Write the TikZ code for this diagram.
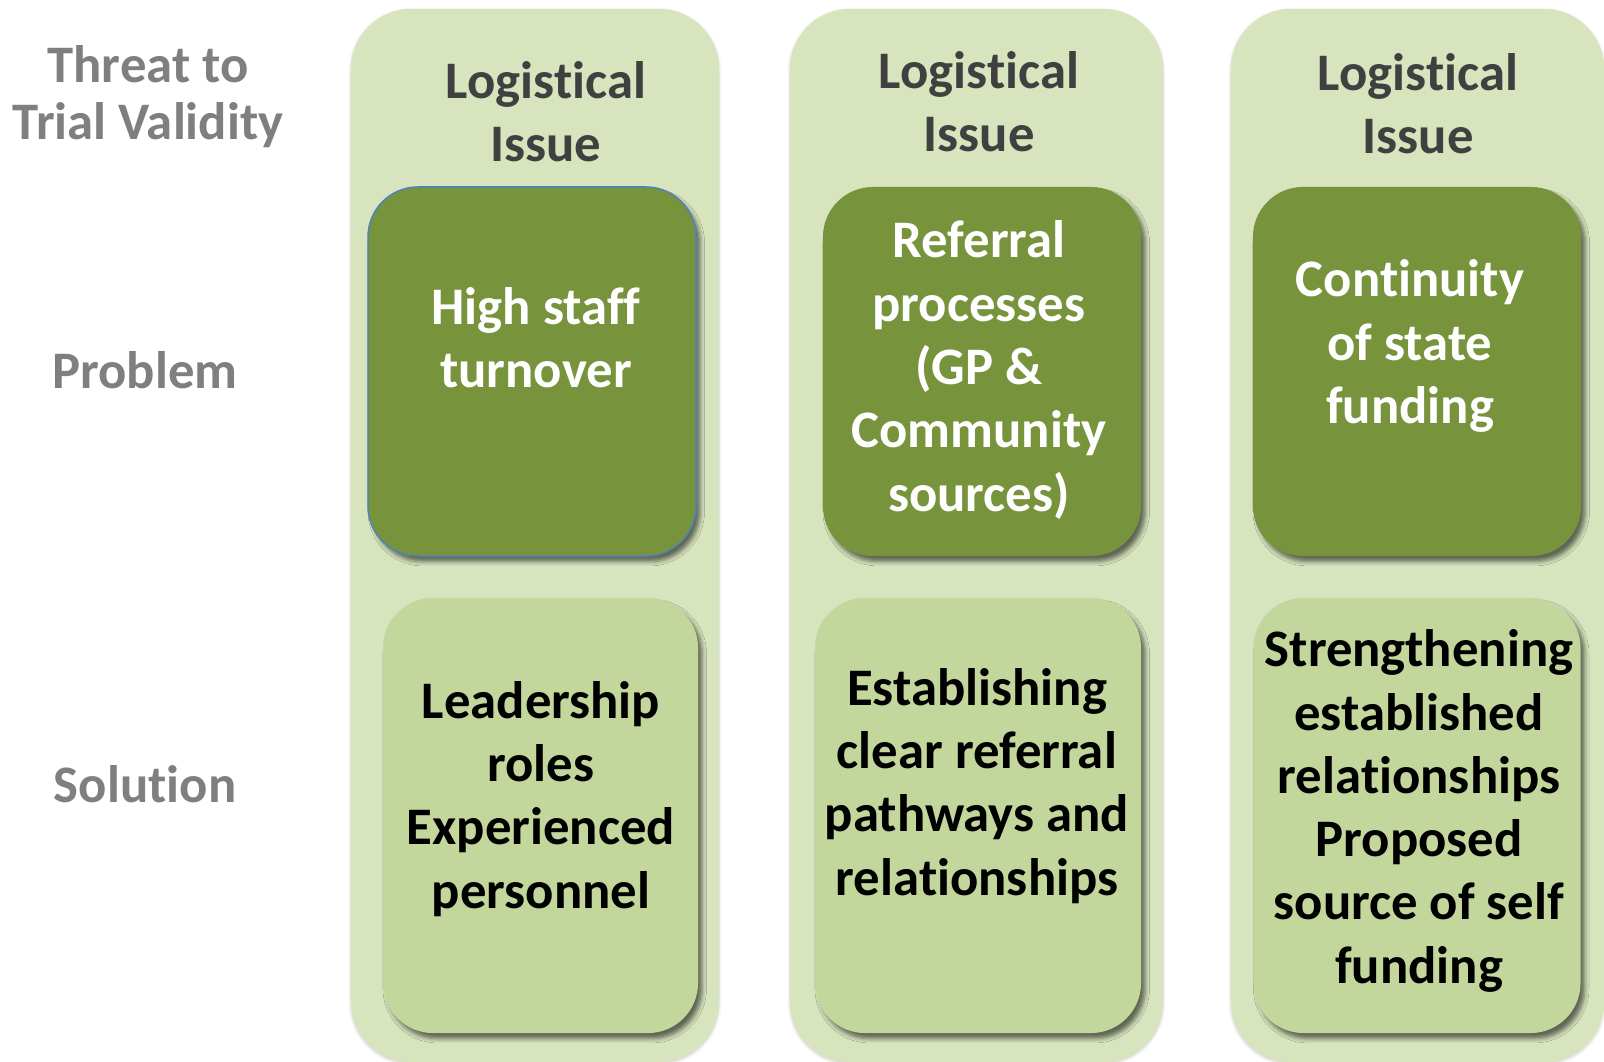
\documentclass[tikz,border=0pt]{standalone}
\usepackage{fontspec}
\setmainfont{Carlito}[Ligatures=NoCommon]
\usetikzlibrary{shadows.blur}
\definecolor{panelgreen}{HTML}{D7E4BD}
\definecolor{probgreen}{HTML}{77933C}
\definecolor{solgreen}{HTML}{C3D69B}
\definecolor{headgray}{HTML}{404040}
\definecolor{sidegray}{HTML}{7F7F7F}
\definecolor{edgeblue}{HTML}{4F81BD}
\tikzset{
  boxshadow/.style={blur shadow={shadow xshift=3pt,shadow yshift=-4pt,shadow blur radius=3pt,shadow opacity=55}},
  panel/.style={fill=panelgreen,rounded corners=1.5cm,minimum height=26.325cm,
    blur shadow={shadow xshift=0pt,shadow yshift=-1pt,shadow blur radius=2pt,shadow opacity=20}},
  probbox/.style={fill=probgreen,rounded corners=1.25cm,minimum height=9.225cm,boxshadow},
  solbox/.style={fill=solgreen,rounded corners=1.25cm,minimum height=10.875cm,boxshadow},
  bigtext/.style={font=\bfseries\fontsize{37.5}{45}\selectfont,align=center,inner sep=0pt},
}
\begin{document}
\begin{tikzpicture}[x=0.025cm,y=-0.025cm]
\useasboundingbox (0,0) rectangle (1604,1062);
\clip (0,0) rectangle (1604,1062);
% columns
\node[panel,minimum width=9.2cm] (col1) at (535,535.5) {};
\node[panel,minimum width=9.325cm] (col2) at (976.5,535.5) {};
\node[panel,minimum width=9.325cm] (col3) at (1417.5,535.5) {};
% row labels
\node[bigtext,text=sidegray,font=\bfseries\fontsize{37.5}{40.5}\selectfont] (threat) at (148,97) {Threat to\\Trial Validity};
\node[bigtext,text=sidegray] (problem) at (145,370) {Problem};
\node[bigtext,text=sidegray] (solution) at (145,784) {Solution};
% headers
\node[bigtext,text=headgray] (head1) at (546,112) {Logistical\\Issue};
\node[bigtext,text=headgray] (head2) at (979,102) {Logistical\\Issue};
\node[bigtext,text=headgray] (head3) at (1418,104) {Logistical\\Issue};
% problems
\node[probbox,minimum width=8.2cm,draw=edgeblue,line width=1pt] (prob1) at (532,371.5) {};
\node[probbox,minimum width=7.95cm] (prob2) at (982,371.5) {};
\node[probbox,minimum width=8.2cm] (prob3) at (1417,371.5) {};
\node[bigtext,text=white] (probtxt1) at (536,338) {High staff\\turnover};
\node[bigtext,text=white] (probtxt2) at (979,370) {Referral\\processes\\(GP \&\\Community\\sources)};
\node[bigtext,text=white] (probtxt3) at (1410,346) {Continuity\\of state\\funding};
% solutions
\node[solbox,minimum width=7.875cm] (sol1) at (540.5,815.5) {};
\node[solbox,minimum width=8.15cm] (sol2) at (978,815.5) {};
\node[solbox,minimum width=8.175cm] (sol3) at (1417,815.5) {};
\node[bigtext] (soltxt1) at (541,799) {Leadership\\roles\\Experienced\\personnel};
\node[bigtext] (soltxt2) at (977,786) {Establishing\\clear referral\\pathways and\\relationships};
\node[bigtext] (soltxt3) at (1419,811) {Strengthening\\established\\relationships\\Proposed\\source of self\\funding};
\end{tikzpicture}
\end{document}
